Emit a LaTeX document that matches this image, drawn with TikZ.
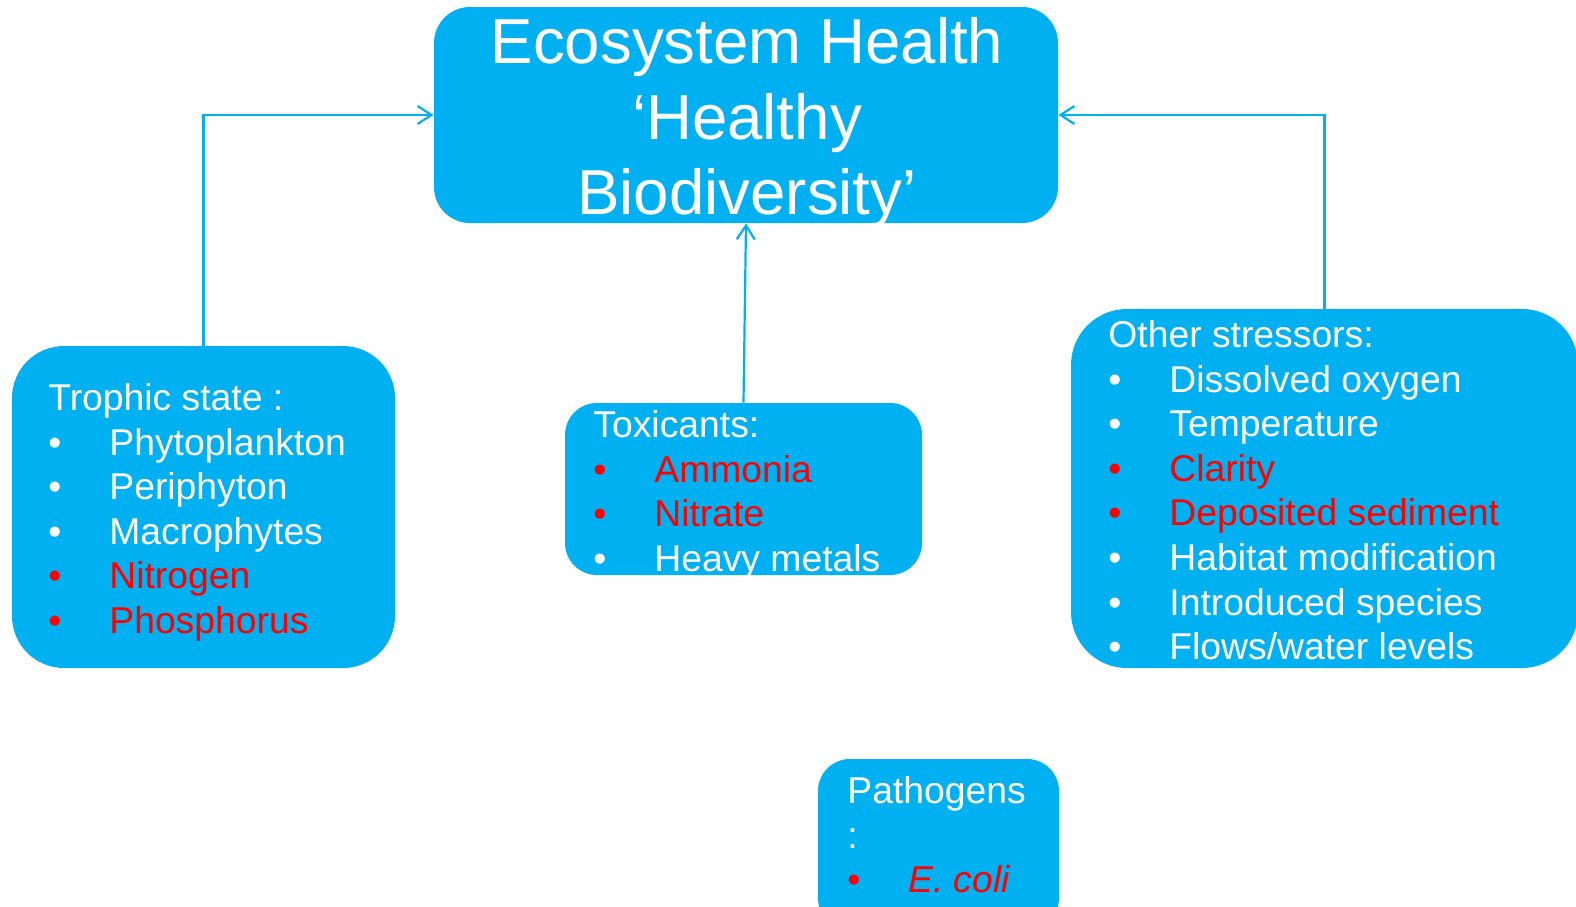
\documentclass[tikz,border=0pt]{standalone}
\usepackage{fontspec}
\setmainfont{Liberation Sans}
\usetikzlibrary{arrows.meta}
\definecolor{boxblue}{HTML}{00B0F0}
\definecolor{itemred}{HTML}{FF0000}
\newcommand{\itm}[2][white]{\textcolor{#1}{\makebox[30.5pt][l]{\textbullet}#2}}

\begin{document}
\begin{tikzpicture}[x=0.5pt, y=-0.5pt,
        box/.style={rectangle, fill=boxblue, draw=none, inner sep=0pt},
        link/.style={draw=boxblue, line width=1.1pt, -{Straight Barb[length=7pt, width=9pt]}},
        title/.style={text=white, align=center, anchor=north, inner sep=0pt, font=\fontsize{31.8}{37.8}\selectfont},
        list/.style={text=white, align=left, anchor=north west, inner sep=0pt, font=\fontsize{18.65}{22.3}\selectfont}
    ]
        \useasboundingbox (0,0) rectangle (1576,906);

        % boxes
        \node[box, minimum width=312pt, minimum height=108pt, rounded corners=18pt] (health) at (746,115) {};
        \node[box, minimum width=191.5pt, minimum height=161pt, rounded corners=26pt] (trophic) at (203.5,507) {};
        \node[box, minimum width=178.5pt, minimum height=86pt, rounded corners=16pt] (toxic) at (743.5,489) {};
        \node[box, minimum width=253.5pt, minimum height=179.5pt, rounded corners=28pt] (stress) at (1324.5,488.5) {};
        \node[box, minimum width=120.5pt, minimum height=85.5pt, rounded corners=16pt] (patho) at (938.5,844.5) {};

        % texts
        \node[title] (health_text) at (747,17) {Ecosystem Health\\‘Healthy\\Biodiversity’};
        \node[list] (trophic_text) at (48,383) {Trophic state :\\\itm{Phytoplankton}\\\itm{Periphyton}\\\itm{Macrophytes}\\\itm[itemred]{Nitrogen}\\\itm[itemred]{Phosphorus}};
        \node[list] (toxic_text) at (593,410) {Toxicants:\\\itm[itemred]{Ammonia}\\\itm[itemred]{Nitrate}\\\itm{Heavy metals}};
        \node[list] (stress_text) at (1108,320) {Other stressors:\\\itm{Dissolved oxygen}\\\itm{Temperature}\\\itm[itemred]{Clarity}\\\itm[itemred]{Deposited sediment}\\\itm{Habitat modification}\\\itm{Introduced species}\\\itm{Flows/water levels}};
        \node[list] (patho_text) at (847,776) {Pathogens\\:\\\itm[itemred]{\textit{E. coli}}};

        % links
        \draw[link] (trophic.north) |- (health.west);
        \draw[link] (toxic.north) -- (health.south);
        \draw[link] (stress.north) |- (health.east);
    \end{tikzpicture}
\end{document}
